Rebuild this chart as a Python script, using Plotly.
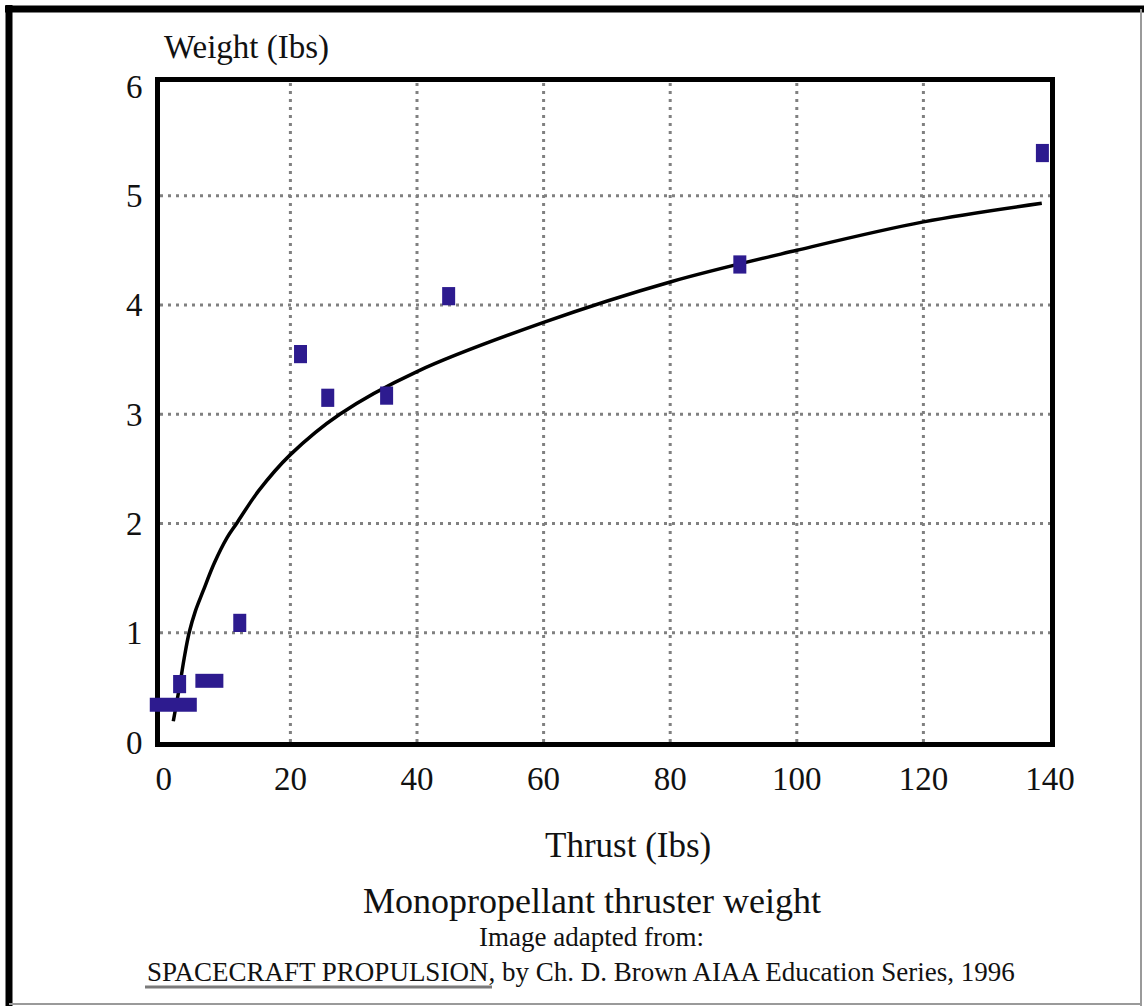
import plotly.graph_objects as go

# ---------------- data ----------------
# individual thrusters (drawn as small vertical bars)
thrust_pts = [2.5, 12.0, 21.6, 25.9, 35.2, 45.0, 91.0, 138.8]
weight_pts = [0.53, 1.09, 3.55, 3.15, 3.17, 4.08, 4.37, 5.39]

# groups of small thrusters (drawn as horizontal bars)
thrust_grp = [1.5, 7.2]
weight_grp = [0.34, 0.56]

# fitted trend curve
curve_x = [1.5, 2.0, 2.5, 3.2, 4.0, 5.0, 6.2, 8.0, 10, 11.5, 15, 20, 27.8,
           40, 60, 80, 100, 120, 138.7]
curve_y = [0.19, 0.35, 0.51, 0.76, 1.0, 1.2, 1.38, 1.64, 1.87, 2.0, 2.30, 2.63, 3.0,
           3.39, 3.84, 4.21, 4.50, 4.76, 4.93]

x_ticks = [0, 20, 40, 60, 80, 100, 120, 140]
y_ticks = [0, 1, 2, 3, 4, 5, 6]
x_grid = [20, 40, 60, 80, 100, 120]
y_grid = [1, 2, 3, 4, 5]

title_text = "Monopropellant thruster weight"
subtitle_text = "Image adapted from:"
source_text = "SPACECRAFT PROPULSION, by Ch. D. Brown AIAA Education Series, 1996"
x_title = "Thrust (Ibs)"
y_title = "Weight (Ibs)"

# ---------------- layout helpers ----------------
W, H = 1148, 1006
ML, MR, MT, MB = 160, 98, 82, 264
PW = W - ML - MR
PH = H - MT - MB


def pxx(p):
    return (p - ML) / PW


def pxy(p):
    return (H - MB - p) / PH


FONT = "Liberation Serif"
MARK = "#2d1b8f"
GRID = "#808080"

fig = go.Figure()

fig.add_trace(go.Scatter(
    x=curve_x, y=curve_y, mode="lines",
    line=dict(color="black", width=3.5, shape="spline", smoothing=1.0),
    hoverinfo="skip", showlegend=False))

fig.add_trace(go.Scatter(
    x=thrust_pts, y=weight_pts, mode="markers",
    marker=dict(symbol="line-ns", size=13, color=MARK, opacity=1,
                line=dict(color=MARK, width=13)),
    showlegend=False, cliponaxis=False))

fig.add_trace(go.Scatter(
    x=thrust_grp, y=weight_grp, mode="markers",
    marker=dict(symbol="line-ew", size=[33.6, 20], color=MARK, opacity=1,
                line=dict(color=MARK, width=14)),
    showlegend=False, cliponaxis=False))

shapes = []
for v in x_grid:
    shapes.append(dict(type="line", xref="x", yref="paper", x0=v, x1=v, y0=0, y1=1,
                       line=dict(color=GRID, width=3, dash="3px,5px"), layer="below"))
for v in y_grid:
    shapes.append(dict(type="line", xref="paper", yref="y", x0=0, x1=1, y0=v, y1=v,
                       line=dict(color=GRID, width=3, dash="3px,5px"), layer="below"))

# underline of the book title
shapes.append(dict(type="line", xref="paper", yref="paper",
                   x0=pxx(145), x1=pxx(492), y0=pxy(987), y1=pxy(987),
                   line=dict(color="#7a7a7a", width=3)))
# outer frame
shapes.append(dict(type="line", xref="paper", yref="paper",
                   x0=pxx(5), x1=pxx(1144), y0=pxy(9), y1=pxy(9),
                   line=dict(color="black", width=7)))
shapes.append(dict(type="line", xref="paper", yref="paper",
                   x0=pxx(9), x1=pxx(9), y0=pxy(5), y1=pxy(1010),
                   line=dict(color="black", width=7)))
shapes.append(dict(type="line", xref="paper", yref="paper",
                   x0=pxx(1141), x1=pxx(1141), y0=pxy(9), y1=pxy(1010),
                   line=dict(color="#9a9a9a", width=2)))
shapes.append(dict(type="line", xref="paper", yref="paper",
                   x0=pxx(9), x1=pxx(1141), y0=pxy(1004), y1=pxy(1004),
                   line=dict(color="#9a9a9a", width=2)))

annotations = [
    dict(text=y_title, x=pxx(162), y=pxy(47), xanchor="left", yanchor="middle",
         font=dict(family=FONT, size=33, color="#111")),
    dict(text=x_title, x=pxx(628), y=pxy(845), xanchor="center", yanchor="middle",
         font=dict(family=FONT, size=35, color="#111")),
    dict(text=title_text, x=pxx(592), y=pxy(901), xanchor="center", yanchor="middle",
         font=dict(family=FONT, size=36, color="#111")),
    dict(text=subtitle_text, x=pxx(591), y=pxy(937), xanchor="center", yanchor="middle",
         font=dict(family=FONT, size=27, color="#111")),
    dict(text=source_text, x=pxx(145), y=pxy(972), xanchor="left", yanchor="middle",
         font=dict(family=FONT, size=27, color="#111")),
]
for a in annotations:
    a.update(xref="paper", yref="paper", showarrow=False)

fig.update_layout(
    width=W, height=H,
    margin=dict(l=ML, r=MR, t=MT, b=MB, pad=0),
    paper_bgcolor="white", plot_bgcolor="white",
    shapes=shapes, annotations=annotations,
    xaxis=dict(range=[-0.6, 140], tickvals=x_ticks, ticktext=[str(v) for v in x_ticks],
               showgrid=False, zeroline=False, showline=True, linewidth=5,
               linecolor="black", mirror=True, ticks="", layer="below traces",
               tickfont=dict(family=FONT, size=33, color="#111"),
               ticklabelstandoff=3),
    yaxis=dict(range=[0, 6.04], tickvals=y_ticks, ticktext=[str(v) for v in y_ticks],
               showgrid=False, zeroline=False, showline=True, linewidth=5,
               linecolor="black", mirror=True, ticks="", layer="below traces",
               tickfont=dict(family=FONT, size=33, color="#111"),
               ticklabelstandoff=6),
)

fig.write_html("out.html", config={"displayModeBar": False},
               post_script="document.body.style.margin='0';")
